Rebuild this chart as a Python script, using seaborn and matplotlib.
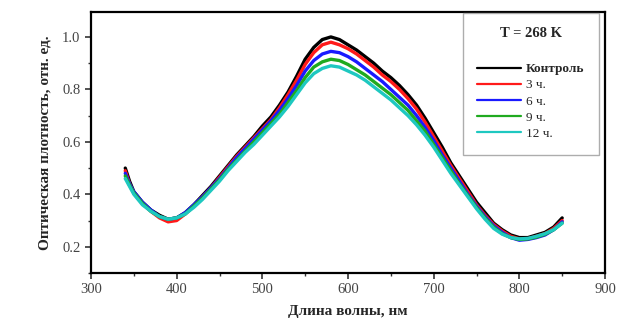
import matplotlib
matplotlib.use("Agg")
import matplotlib.pyplot as plt
import seaborn as sns
import pandas as pd
from matplotlib.ticker import MultipleLocator

wavelength = [340, 345, 350, 360, 370, 380, 390, 400, 410, 420, 430, 440, 450, 460, 470, 480, 490, 500,
              510, 520, 530, 540, 550, 560, 570, 580, 590, 600, 610, 620, 630, 640, 650, 660, 670, 680,
              690, 700, 710, 720, 730, 740, 750, 760, 770, 780, 790, 800, 810, 820, 830, 840, 850]

control = [0.50, 0.45, 0.41, 0.37, 0.34, 0.32, 0.305, 0.31, 0.33, 0.36, 0.395, 0.43, 0.47, 0.51, 0.55, 0.585,
           0.62, 0.66, 0.695, 0.74, 0.79, 0.85, 0.915, 0.96, 0.99, 1.0, 0.99, 0.97, 0.95, 0.925, 0.90, 0.87,
           0.845, 0.815, 0.78, 0.74, 0.69, 0.635, 0.58, 0.52, 0.47, 0.42, 0.37, 0.33, 0.29, 0.265, 0.245,
           0.235, 0.235, 0.245, 0.255, 0.275, 0.31]
h3 = [0.49, 0.44, 0.405, 0.365, 0.335, 0.31, 0.295, 0.30, 0.325, 0.355, 0.39, 0.425, 0.465, 0.505, 0.545,
      0.58, 0.615, 0.65, 0.685, 0.73, 0.78, 0.835, 0.895, 0.94, 0.97, 0.98, 0.97, 0.955, 0.935, 0.91, 0.885,
      0.855, 0.83, 0.80, 0.765, 0.725, 0.675, 0.62, 0.565, 0.51, 0.46, 0.41, 0.36, 0.32, 0.285, 0.26, 0.24,
      0.23, 0.23, 0.24, 0.25, 0.27, 0.30]
h6 = [0.48, 0.44, 0.41, 0.37, 0.34, 0.315, 0.305, 0.31, 0.33, 0.36, 0.39, 0.425, 0.46, 0.50, 0.54, 0.575,
      0.61, 0.645, 0.68, 0.72, 0.765, 0.815, 0.87, 0.91, 0.935, 0.945, 0.94, 0.925, 0.905, 0.88, 0.855, 0.83,
      0.80, 0.77, 0.74, 0.70, 0.655, 0.605, 0.55, 0.50, 0.45, 0.40, 0.355, 0.315, 0.28, 0.255, 0.235, 0.225,
      0.228, 0.235, 0.245, 0.265, 0.295]
h9 = [0.47, 0.435, 0.405, 0.365, 0.335, 0.315, 0.305, 0.31, 0.325, 0.355, 0.385, 0.42, 0.455, 0.495, 0.53,
      0.565, 0.60, 0.635, 0.67, 0.705, 0.75, 0.795, 0.845, 0.885, 0.905, 0.915, 0.91, 0.895, 0.875, 0.855,
      0.83, 0.805, 0.78, 0.75, 0.72, 0.68, 0.64, 0.59, 0.54, 0.49, 0.44, 0.395, 0.35, 0.31, 0.275, 0.25,
      0.235, 0.228, 0.23, 0.237, 0.248, 0.265, 0.29]
h12 = [0.46, 0.43, 0.40, 0.36, 0.335, 0.315, 0.305, 0.31, 0.325, 0.35, 0.38, 0.415, 0.45, 0.49, 0.525, 0.56,
       0.59, 0.625, 0.66, 0.695, 0.735, 0.78, 0.825, 0.86, 0.88, 0.89, 0.885, 0.87, 0.855, 0.835, 0.81, 0.785,
       0.76, 0.73, 0.70, 0.665, 0.625, 0.58, 0.53, 0.48, 0.435, 0.39, 0.345, 0.305, 0.27, 0.248, 0.235, 0.23,
       0.232, 0.24, 0.25, 0.265, 0.29]

series_labels = ["Контроль", "3 ч.", "6 ч.", "9 ч.", "12 ч."]
series_values = [control, h3, h6, h9, h12]
colors = ["#000000", "#ff1a1a", "#1a1aff", "#1faa1f", "#1ec8c0"]

rows = []
for lab, vals in zip(series_labels, series_values):
    for w, v in zip(wavelength, vals):
        rows.append({"wl": w, "od": v, "series": lab})
df = pd.DataFrame(rows)

sns.set_style("ticks")
plt.rcParams["font.family"] = ["Liberation Serif", "DejaVu Serif"]

fig = plt.figure(figsize=(6.22, 3.23), dpi=100)
ax = fig.add_axes([0.1463, 0.1548, 0.8264, 0.808])

sns.lineplot(data=df, x="wl", y="od", hue="series", hue_order=series_labels,
             palette=dict(zip(series_labels, colors)), linewidth=2.4, sort=False,
             estimator=None, legend=False, ax=ax)

ax.set_xlim(300, 900)
ax.set_ylim(0.1, 1.095)
ax.xaxis.set_major_locator(MultipleLocator(100))
ax.xaxis.set_minor_locator(MultipleLocator(50))
ax.yaxis.set_major_locator(MultipleLocator(0.2))
ax.yaxis.set_minor_locator(MultipleLocator(0.1))
ax.yaxis.set_major_formatter(matplotlib.ticker.FormatStrFormatter("%.1f"))
ax.set_yticks([0.2, 0.4, 0.6, 0.8, 1.0])
ax.tick_params(which="major", length=4, width=1.2, labelsize=10.5, colors="#333333", labelcolor="#444444")
ax.tick_params(which="minor", length=2.5, width=1.0, colors="#333333")
for s in ax.spines.values():
    s.set_linewidth(1.6)
    s.set_color("black")

ax.set_xlabel("Длина волны, нм", fontsize=11, fontweight="bold", labelpad=6)
ax.set_ylabel("Оптическая плотность, отн. ед.", fontsize=11, fontweight="bold", labelpad=8)

handles = [matplotlib.lines.Line2D([], [], color=c, linewidth=1.6) for c in colors]
leg = ax.legend(handles, series_labels, title="T = 268 K\n", loc="upper right",
                bbox_to_anchor=(0.988, 0.998), frameon=True, fancybox=False,
                edgecolor="#999999", fontsize=9.5, handlelength=3.3, labelspacing=0.3,
                borderpad=1.1, handletextpad=0.4, borderaxespad=0)
leg.get_title().set_fontweight("bold")
leg.get_title().set_fontsize(10.5)
leg.get_title().set_linespacing(1.6)
leg.get_frame().set_linewidth(1.0)
leg.get_texts()[0].set_fontweight("bold")

fig.savefig("out.png", dpi=100)
